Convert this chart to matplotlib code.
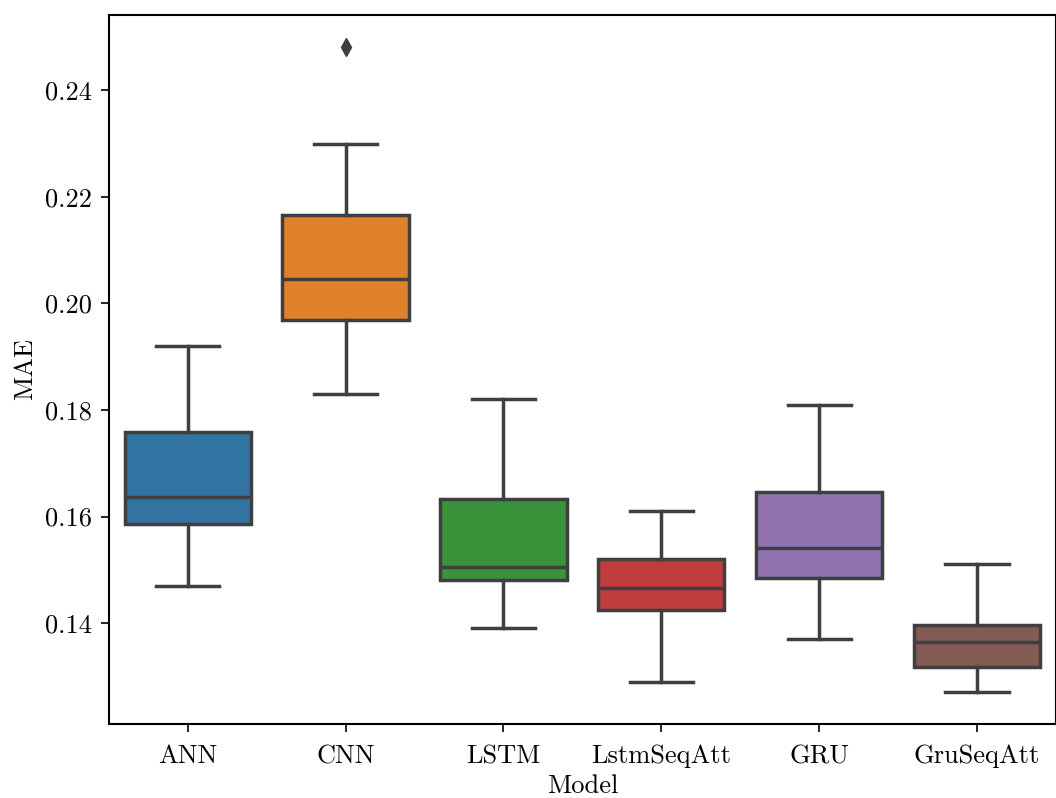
import matplotlib
matplotlib.use("Agg")
import matplotlib.pyplot as plt

plt.rcParams['font.family'] = 'serif'
plt.rcParams['font.serif'] = ['cmr10', 'DejaVu Serif']
plt.rcParams['axes.formatter.use_mathtext'] = True

# --------- DATA ---------
models = ["ANN", "CNN", "LSTM", "LstmSeqAtt", "GRU", "GruSeqAtt"]
whislo = [0.147, 0.183, 0.139, 0.129, 0.137, 0.127]
q1 = [0.1586, 0.1968, 0.1481, 0.1424, 0.1484, 0.1317]
med = [0.1636, 0.2045, 0.1505, 0.1466, 0.1541, 0.1365]
q3 = [0.1758, 0.2165, 0.1633, 0.1520, 0.1646, 0.1396]
whishi = [0.192, 0.230, 0.182, 0.161, 0.181, 0.151]
fliers = [[], [0.2481], [], [], [], []]

colors = ["#3274a1", "#e1812c", "#3a923a", "#c03d3e", "#9372b2", "#845b53"]
edge = "#3f3f3f"

stats = []
for i, m in enumerate(models):
    stats.append(dict(label=m, whislo=whislo[i], q1=q1[i], med=med[i],
                      q3=q3[i], whishi=whishi[i], fliers=fliers[i]))

fig = plt.figure(figsize=(10.56, 7.98), dpi=100)
ax = fig.add_axes([0.103, 0.093, 0.897, 0.888])

bp = ax.bxp(stats, positions=range(len(models)), widths=0.8, patch_artist=True,
            boxprops=dict(edgecolor=edge, linewidth=2.5),
            medianprops=dict(color=edge, linewidth=2.5),
            whiskerprops=dict(color=edge, linewidth=2.5),
            capprops=dict(color=edge, linewidth=2.5),
            flierprops=dict(marker='d', markerfacecolor=edge, markeredgecolor=edge, markersize=9),
            capwidths=0.4)
for patch, c in zip(bp['boxes'], colors):
    patch.set_facecolor(c)

ax.set_xlim(-0.5, 5.5)
ax.set_ylim(0.1211, 0.2541)
ax.set_yticks([0.14, 0.16, 0.18, 0.20, 0.22, 0.24])
ax.set_yticklabels(["0.14", "0.16", "0.18", "0.20", "0.22", "0.24"])
ax.set_xticks(range(len(models)))
ax.set_xticklabels(models)
ax.tick_params(labelsize=19, length=6, width=1.2)
ax.tick_params(axis='x', pad=9)
ax.tick_params(axis='y', pad=6)
for s in ax.spines.values():
    s.set_linewidth(1.5)
ax.set_xlabel("Model", fontsize=19, labelpad=4)
ax.set_ylabel("MAE", fontsize=19, labelpad=6)

fig.savefig("out.png", dpi=100)
